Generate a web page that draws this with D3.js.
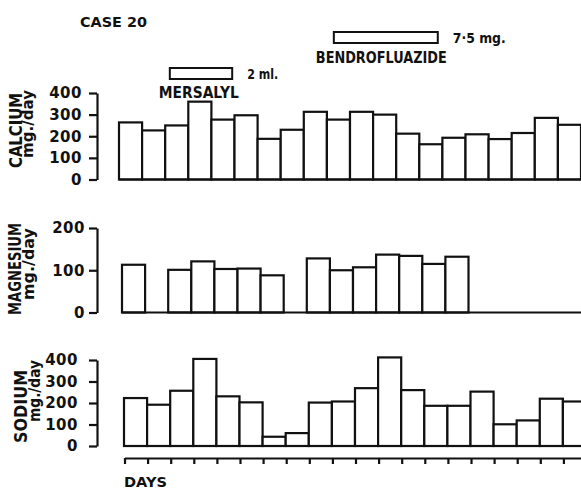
<!DOCTYPE html>
<html>
<head>
<meta charset="utf-8">
<script src="https://cdn.jsdelivr.net/npm/d3@7"></script>
<style>
  body { margin: 0; background: #fff; }
  svg text { font-family: "DejaVu Sans", sans-serif; font-weight: bold; fill: #111; }
</style>
</head>
<body>
<div id="chart"></div>
<script>
// daily urinary excretion, case 20 (null = no measurement)
const days = d3.range(1, 21);
const calcium = [264, 227, 250, 360, 277, 297, 188, 230, 313, 277, 313, 300, 212, 163, 193, 209, 187, 215, 285, 253];
const magnesium = [113, null, 101, 121, 103, 104, 88, null, 128, 100, 107, 137, 134, 115, 132, null, null, null, null, null];
const sodium = [223, 192, 257, 405, 231, 203, 43, 60, 202, 207, 269, 412, 260, 187, 187, 253, 101, 119, 220, 207];
const caTicks = [0, 100, 200, 300, 400];
const mgTicks = [0, 100, 200];
const naTicks = [0, 100, 200, 300, 400];
// treatment periods, in days from the start of the record
const mersalyl = { start: 2.2, end: 4.9, dose: "2 ml.", name: "MERSALYL" };
const bendro = { start: 9.3, end: 13.8, dose: "7\u00b75 mg.", name: "BENDROFLUAZIDE" };

const W = 581, H = 489;
const svg = d3.select("#chart").append("svg").attr("width", W).attr("height", H);

const ink = "#111";

// x position of the left edge of a day
const xBase = d3.scaleLinear().domain([0, 20]).range([119, 581]);

const panels = [
  { name: "CALCIUM", values: calcium, ticks: caTicks, domain: [0, 400], yr: [179.5, 93], dx: 0,
    pad: 7, lab: { x: 21.5, y: 130.5, len: 75 }, unit: { x: 32.5, y: 124, len: 68 } },
  { name: "MAGNESIUM", values: magnesium, ticks: mgTicks, domain: [0, 200], yr: [312.5, 228], dx: 3,
    pad: 4, lab: { x: 21, y: 269, len: 92 }, unit: { x: 33.5, y: 264, len: 72 } },
  { name: "SODIUM", values: sodium, ticks: naTicks, domain: [0, 400], yr: [446, 360], dx: 5,
    pad: 11, lab: { x: 27, y: 406.5, len: 73 }, unit: { x: 40, y: 391, len: 62 } },
];

panels.forEach((p) => {
  const x = d3.scaleLinear().domain([0, 20]).range([119 + p.dx, 581 + p.dx]);
  const y = d3.scaleLinear().domain(p.domain).range(p.yr);
  const g = svg.append("g");

  // bars
  g.selectAll("rect.bar")
    .data(p.values.map((v, i) => ({ day: days[i], v })).filter((d) => d.v !== null))
    .enter()
    .append("rect")
    .attr("class", "bar")
    .attr("x", (d) => x(d.day - 1))
    .attr("y", (d) => y(d.v))
    .attr("width", x(1) - x(0))
    .attr("height", (d) => y(0) - y(d.v))
    .attr("fill", "#fff")
    .attr("stroke", ink)
    .attr("stroke-width", 2.2);

  // baseline under the bars
  g.append("line")
    .attr("x1", x(0)).attr("x2", W)
    .attr("y1", y(0)).attr("y2", y(0))
    .attr("stroke", ink).attr("stroke-width", 2.2);

  // y axis
  const ax = g.append("g")
    .attr("transform", "translate(97,0)")
    .call(d3.axisLeft(y).tickValues(p.ticks).tickSize(8).tickSizeOuter(0).tickPadding(p.pad));
  ax.select(".domain").attr("stroke", ink).attr("stroke-width", 2.2);
  ax.selectAll(".tick line").attr("stroke", ink).attr("stroke-width", 2.2);
  ax.selectAll(".tick text")
    .style("font-size", "15px")
    .style("font-family", "DejaVu Sans")
    .style("font-weight", "bold")
    .attr("fill", ink)
    .attr("letter-spacing", "0.5px");

  // rotated labels
  g.append("text")
    .attr("transform", `translate(${p.lab.x},${p.lab.y}) rotate(-90)`)
    .attr("text-anchor", "middle")
    .attr("textLength", p.lab.len)
    .attr("lengthAdjust", "spacingAndGlyphs")
    .style("font-size", "18px")
    .text(p.name);
  g.append("text")
    .attr("transform", `translate(${p.unit.x},${p.unit.y}) rotate(-90)`)
    .attr("text-anchor", "middle")
    .attr("textLength", p.unit.len)
    .attr("lengthAdjust", "spacingAndGlyphs")
    .style("font-size", "15px")
    .text("mg./day");
});

// days axis
const xDays = d3.scaleLinear().domain([0, 20]).range([124.5, 586.5]);
const dAx = svg.append("g")
  .attr("transform", "translate(0,458)")
  .call(d3.axisBottom(xDays).tickValues(d3.range(0, 20)).tickSize(6).tickSizeOuter(0).tickFormat(""));
dAx.select(".domain").attr("stroke", ink).attr("stroke-width", 2.2);
dAx.selectAll(".tick line").attr("stroke", ink).attr("stroke-width", 2.2);

svg.append("text")
  .attr("x", 124).attr("y", 487)
  .attr("textLength", 43)
  .attr("lengthAdjust", "spacingAndGlyphs")
  .style("font-size", "14px")
  .text("DAYS");

// header
svg.append("text")
  .attr("x", 80).attr("y", 27)
  .attr("textLength", 67)
  .attr("lengthAdjust", "spacingAndGlyphs")
  .style("font-size", "14px")
  .text("CASE 20");

function treatment(t, y0, h, nameY, nameLen, doseLen, nameDx) {
  const x0 = xBase(t.start), x1 = xBase(t.end);
  svg.append("rect")
    .attr("x", x0).attr("y", y0)
    .attr("width", x1 - x0).attr("height", h)
    .attr("fill", "#fff")
    .attr("stroke", ink)
    .attr("stroke-width", 2);
  svg.append("text")
    .attr("x", x1 + 15).attr("y", y0 + h - 0.5)
    .attr("textLength", doseLen)
    .attr("lengthAdjust", "spacingAndGlyphs")
    .style("font-size", "14px")
    .text(t.dose);
  svg.append("text")
    .attr("x", x0 + nameDx).attr("y", nameY)
    .attr("textLength", nameLen)
    .attr("lengthAdjust", "spacingAndGlyphs")
    .style("font-size", "16px")
    .text(t.name);
}

treatment(mersalyl, 68, 11, 98, 80, 31, -11);
treatment(bendro, 32, 11, 63, 131, 53, -18);
</script>
</body>
</html>
